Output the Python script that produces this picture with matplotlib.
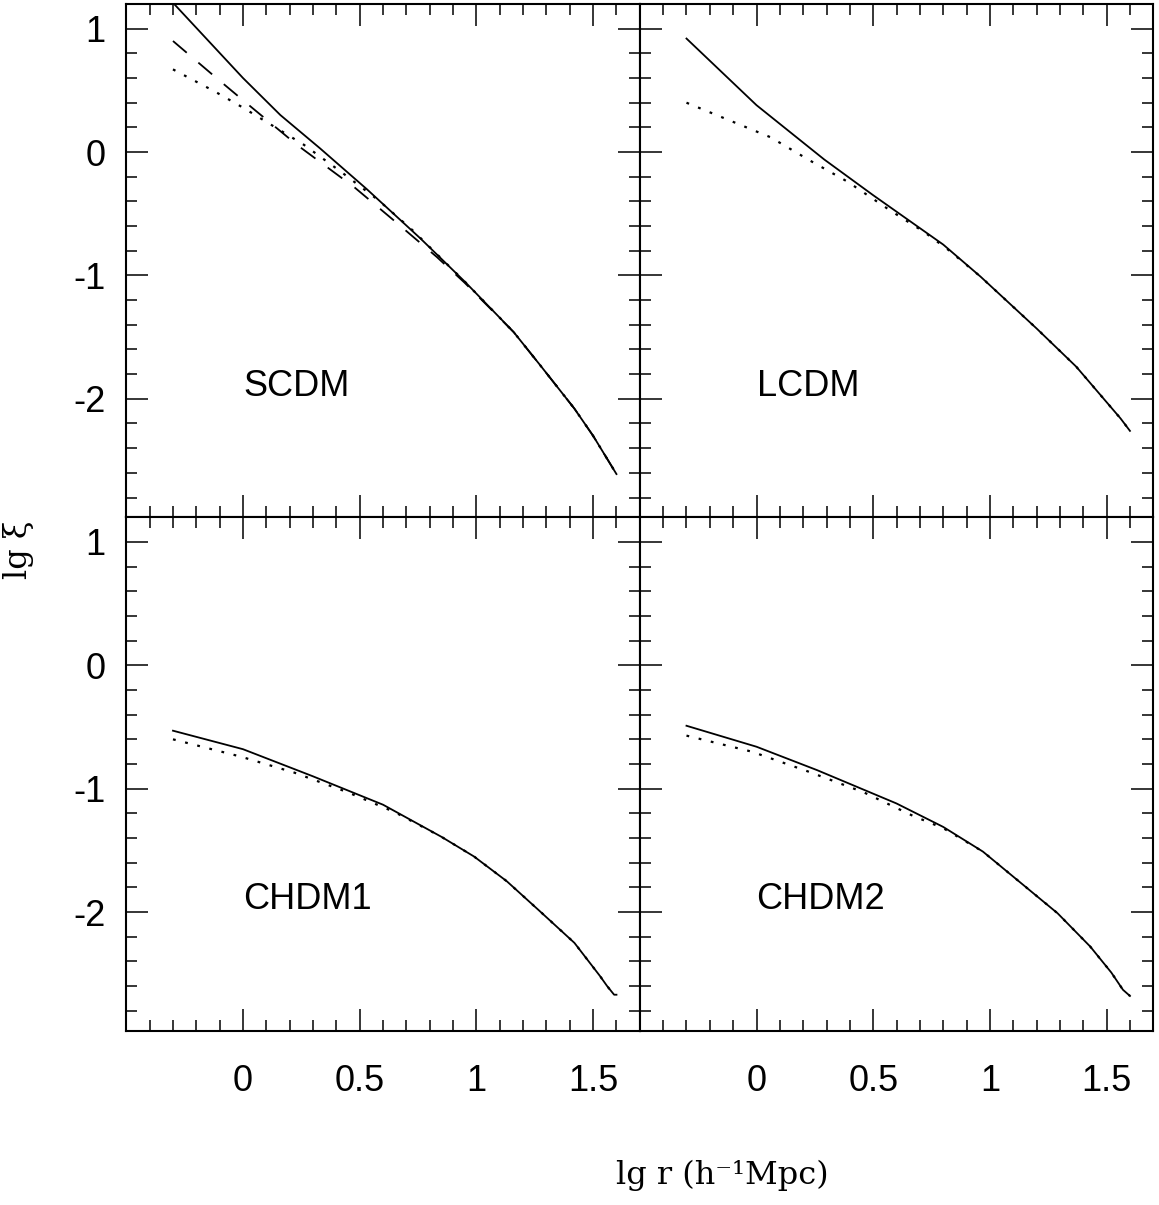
import matplotlib
matplotlib.use("Agg")
import matplotlib.pyplot as plt
from matplotlib.ticker import MultipleLocator, FixedLocator, FixedFormatter

plt.rcParams['axes.unicode_minus'] = False
plt.rcParams['lines.scale_dashes'] = False
plt.rcParams['font.family'] = ['Liberation Sans', 'DejaVu Sans']

# ---- data (lg r, lg xi) ----
scdm_solid_x = [-0.30, 0.00, 0.16, 0.33, 0.53, 0.76, 0.95, 1.16, 1.27, 1.42, 1.50, 1.60]
scdm_solid_y = [1.21, 0.60, 0.30, 0.03, -0.30, -0.70, -1.05, -1.46, -1.72, -2.08, -2.30, -2.61]
scdm_dash_x = [-0.30, -0.12, 0.00, 0.23, 0.48, 0.65, 0.83, 0.95, 1.16, 1.27, 1.42, 1.50, 1.60]
scdm_dash_y = [0.90, 0.61, 0.42, 0.06, -0.29, -0.56, -0.85, -1.06, -1.46, -1.72, -2.08, -2.30, -2.61]
scdm_dot_x = [-0.30, -0.12, 0.00, 0.13, 0.26, 0.42, 0.58, 0.73, 0.95, 1.16, 1.27, 1.42, 1.50, 1.60]
scdm_dot_y = [0.67, 0.49, 0.36, 0.21, 0.06, -0.16, -0.39, -0.64, -1.05, -1.46, -1.72, -2.08, -2.30, -2.61]

lcdm_solid_x = [-0.30, 0.00, 0.29, 0.50, 0.80, 0.96, 1.20, 1.37, 1.56, 1.60]
lcdm_solid_y = [0.92, 0.38, -0.06, -0.35, -0.75, -1.01, -1.43, -1.74, -2.16, -2.26]
lcdm_dot_x = [-0.30, -0.12, 0.06, 0.23, 0.39, 0.57, 0.72, 0.82, 0.96, 1.20, 1.37, 1.56, 1.60]
lcdm_dot_y = [0.40, 0.26, 0.12, -0.07, -0.24, -0.47, -0.65, -0.79, -1.01, -1.43, -1.74, -2.16, -2.26]

chdm1_solid_x = [-0.30, 0.00, 0.30, 0.60, 0.85, 0.99, 1.13, 1.27, 1.42, 1.53, 1.56, 1.59, 1.60]
chdm1_solid_y = [-0.53, -0.68, -0.90, -1.13, -1.39, -1.55, -1.75, -1.99, -2.25, -2.52, -2.60, -2.67, -2.67]
chdm1_dot_x = [-0.30, -0.01, 0.22, 0.45, 0.65, 0.85, 0.99, 1.13, 1.27, 1.42, 1.53, 1.56, 1.59, 1.60]
chdm1_dot_y = [-0.60, -0.74, -0.87, -1.03, -1.19, -1.39, -1.55, -1.75, -1.99, -2.25, -2.52, -2.60, -2.67, -2.67]

chdm2_solid_x = [-0.30, 0.00, 0.26, 0.60, 0.80, 0.97, 1.13, 1.29, 1.43, 1.52, 1.57, 1.60]
chdm2_solid_y = [-0.49, -0.66, -0.85, -1.12, -1.31, -1.51, -1.76, -2.01, -2.28, -2.49, -2.63, -2.68]
chdm2_dot_x = [-0.30, -0.02, 0.22, 0.46, 0.67, 0.80, 0.97, 1.13, 1.29, 1.43, 1.52, 1.57, 1.60]
chdm2_dot_y = [-0.57, -0.70, -0.86, -1.03, -1.22, -1.32, -1.51, -1.76, -2.01, -2.28, -2.49, -2.63, -2.68]

model_names = ['SCDM', 'LCDM', 'CHDM1', 'CHDM2']
x_tick_values = [0, 0.5, 1, 1.5]
x_tick_labels = ['0', '0.5', '1', '1.5']
y_tick_values = [1, 0, -1, -2]
y_tick_labels = ['1', '0', '-1', '-2']

panels = [
    [(scdm_solid_x, scdm_solid_y, 'solid'), (scdm_dash_x, scdm_dash_y, 'dash'), (scdm_dot_x, scdm_dot_y, 'dot')],
    [(lcdm_solid_x, lcdm_solid_y, 'solid'), (lcdm_dot_x, lcdm_dot_y, 'dot')],
    [(chdm1_solid_x, chdm1_solid_y, 'solid'), (chdm1_dot_x, chdm1_dot_y, 'dot')],
    [(chdm2_solid_x, chdm2_solid_y, 'solid'), (chdm2_dot_x, chdm2_dot_y, 'dot')],
]

styles = {'solid': ('-', 1.3), 'dash': ((0, (13, 11)), 1.3), 'dot': ((0, (2.0, 7.0)), 1.6)}

W, H = 1159, 1205
fig = plt.figure(figsize=(W / 100, H / 100), dpi=100)
left, right = 126.3 / W, 1153.3 / W
top, bottom = 1 - 4 / H, 1 - 1030.5 / H
gs = fig.add_gridspec(2, 2, left=left, right=right, top=top, bottom=bottom, hspace=0, wspace=0)

for i in range(4):
    r, c = divmod(i, 2)
    ax = fig.add_subplot(gs[r, c])
    for xs, ys, st in panels[i]:
        ls, lw = styles[st]
        ax.plot(xs, ys, color='black', lw=lw, linestyle=ls)
    ax.set_xlim(-0.5, 1.7)
    ax.set_ylim(-2.96, 1.2)
    ax.xaxis.set_major_locator(FixedLocator(x_tick_values))
    ax.xaxis.set_minor_locator(MultipleLocator(0.1))
    ax.yaxis.set_major_locator(FixedLocator(y_tick_values))
    ax.yaxis.set_minor_locator(MultipleLocator(0.2))
    ax.tick_params(which='both', direction='in', top=True, right=True, width=1.1, color='black')
    ax.tick_params(which='major', length=16)
    ax.tick_params(which='minor', length=8)
    ax.tick_params(axis='x', which='major', pad=24, labelsize=26)
    ax.tick_params(axis='y', which='major', pad=15, labelsize=26)
    if r == 1:
        ax.xaxis.set_major_formatter(FixedFormatter(x_tick_labels))
    else:
        ax.tick_params(axis='x', labelbottom=False)
    if c == 0:
        ax.yaxis.set_major_formatter(FixedFormatter(y_tick_labels))
    else:
        ax.tick_params(axis='y', labelleft=False)
    for sp in ax.spines.values():
        sp.set_linewidth(1.5)
    ax.text(0.0, -1.9, model_names[i], fontsize=26, ha='left', va='center')

fig.text(722 / W, 1 - 1175 / H, 'lg r (h\u207b\u00b9Mpc)', family=['DejaVu Serif'],
         fontsize=23, ha='center', va='center')
fig.text(19 / W, 1 - 550 / H, 'lg \u03be', family=['DejaVu Serif'],
         fontsize=23, ha='center', va='center', rotation=90)

fig.savefig('out.png', dpi=100)
